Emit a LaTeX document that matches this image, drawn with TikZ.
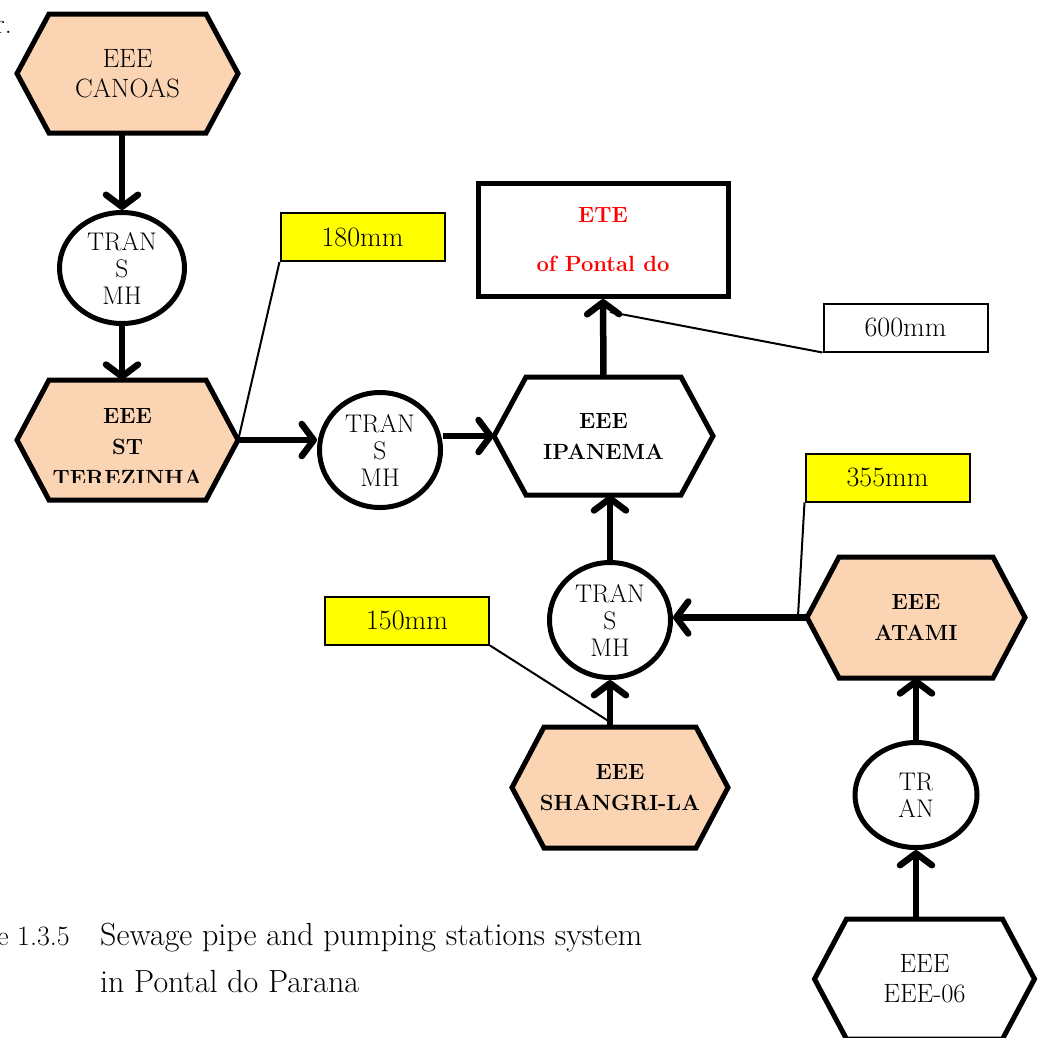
\documentclass[tikz,border=0pt]{standalone}
\usetikzlibrary{arrows.meta,shapes.geometric,calc}
\definecolor{peach}{HTML}{FBD4B4}
\definecolor{hiyel}{HTML}{FFFF00}
% name, cx, cy, w, h, options (fill, font), text
\newcommand\hexnode[7]{%
  \filldraw[hexline, #6] ({#2-#4/2},#3) -- ({#2-#4/2+32},{#3-#5/2}) -- ({#2+#4/2-32},{#3-#5/2}) -- ({#2+#4/2},#3) -- ({#2+#4/2-32},{#3+#5/2}) -- ({#2-#4/2+32},{#3+#5/2}) -- cycle;
  \node[anchorbox, minimum width=#4, minimum height=#5, #6, fill=none] (#1) at (#2,#3) {#7};}
\tikzset{
  hexline/.style={line width=5pt, line join=miter},
  anchorbox/.style={rectangle, inner sep=0pt, align=center},
  regtext/.style={font=\fontsize{26.5}{30}\selectfont},
  boldtext/.style={font=\fontsize{22}{31}\selectfont\bfseries},
  mh/.style={ellipse, draw, line width=5pt, fill=white, inner sep=0pt, align=center, font=\fontsize{25.5}{27}\selectfont},
  lbl/.style={rectangle, draw, line width=2pt, minimum width=164, minimum height=48, inner sep=0pt, font=\fontsize{28}{28}\selectfont},
  flow/.style={line width=6.5pt, -{Straight Barb[length=12pt,width=32pt,round]}},
  leader/.style={line width=2pt},
  captext/.style={anchor=base west, inner sep=0pt, font=\fontsize{32}{47}\selectfont},
}
\begin{document}
\begin{tikzpicture}[x=1pt,y=-1pt]
\useasboundingbox (0,0) rectangle (1043,1037);
\clip (0,0) rectangle (1043,1037);

% fragment of preceding text
\node[anchor=base east, inner sep=0pt, font=\fontsize{28}{28}\selectfont] (frag) at (12,33) {r.};

% hexagons
\hexnode{canoas}{127.5}{73.5}{221}{119}{fill=peach, regtext}{EEE\\CANOAS}
\hexnode{st}{127.5}{440}{221}{120}{fill=peach}{}
\begin{scope}
  \clip (0,0) rectangle (1043,482);
  \node[anchorbox, boldtext] (sttext) at (127.5,447.5) {EEE\\ST\\TEREZINHA};
\end{scope}
\hexnode{ipanema}{603.5}{436}{219}{118}{fill=white, boldtext}{EEE\\IPANEMA}
\hexnode{atami}{916}{617.5}{218}{121}{fill=peach, boldtext}{EEE\\ATAMI}
\hexnode{shangri}{620}{787.5}{216}{121}{fill=peach, boldtext}{EEE\\SHANGRI-LA}
\hexnode{eee06}{924.5}{979}{220}{120}{fill=white, regtext}{EEE\\EEE-06}

% manholes
\node[mh, minimum width=125, minimum height=111] (tr1) at (122,268) {TRAN\\S\\MH};
\node[mh, minimum width=121, minimum height=115] (tr2) at (380,450) {TRAN\\S\\MH};
\node[mh, minimum width=121, minimum height=115] (tr3) at (610,620) {TRAN\\S\\MH};
\node[mh, minimum width=122, minimum height=105] (tr4) at (916,795) {TR\\AN};

% treatment plant
\node[rectangle, draw, line width=5pt, fill=white, minimum width=250, minimum height=113, align=center, text=red, font=\fontsize{22}{49}\selectfont\bfseries] (ete) at (603,240) {ETE\\of Pontal do};

% labels
\node[lbl, fill=hiyel] (lbl180) at (362.5,237) {180mm};
\node[lbl, fill=white] (lbl600) at (905.5,327.5) {600mm};
\node[lbl, fill=hiyel] (lbl355) at (887.5,477.5) {355mm};
\node[lbl, fill=hiyel] (lbl150) at (407,620.5) {150mm};

% flows
\draw[flow] (canoas.south -| tr1.north) -- (tr1.north);
\draw[flow] (tr1.south) -- (tr1.south |- st.north);
\draw[flow] (st.east) -- (st.east -| tr2.west);
\draw[flow] (tr2.east |- ipanema.west) -- (ipanema.west);
\draw[flow] (ipanema.north) -- (ete.south);
\draw[flow] (atami.west) -- (tr3.east |- atami.west);
\draw[flow] (tr3.north) -- (tr3.north |- ipanema.south);
\draw[flow] (shangri.north -| tr3.south) -- (tr3.south);
\draw[flow] (tr4.north) -- (tr4.north |- atami.south);
\draw[flow] (tr4.south |- eee06.north) -- (tr4.south);

% leader lines
\coordinate (p600) at (610,312);
\coordinate (p355) at (798,616);
\coordinate (p150) at (610,722);
\draw[leader] (lbl180.south west) -- (st.east);
\draw[leader] (lbl600.south west) -- (p600);
\draw[leader] (lbl355.south west) -- (p355);
\draw[leader] (lbl150.south east) -- (p150);

% caption
\node[captext, anchor=base east, font=\fontsize{28}{47}\selectfont] (fignum) at (70,945) {Figure 1.3.5};
\node[captext] (cap1) at (100,945) {Sewage pipe and pumping stations system};
\node[captext] (cap2) at (100,992) {in Pontal do Parana};
\end{tikzpicture}
\end{document}
